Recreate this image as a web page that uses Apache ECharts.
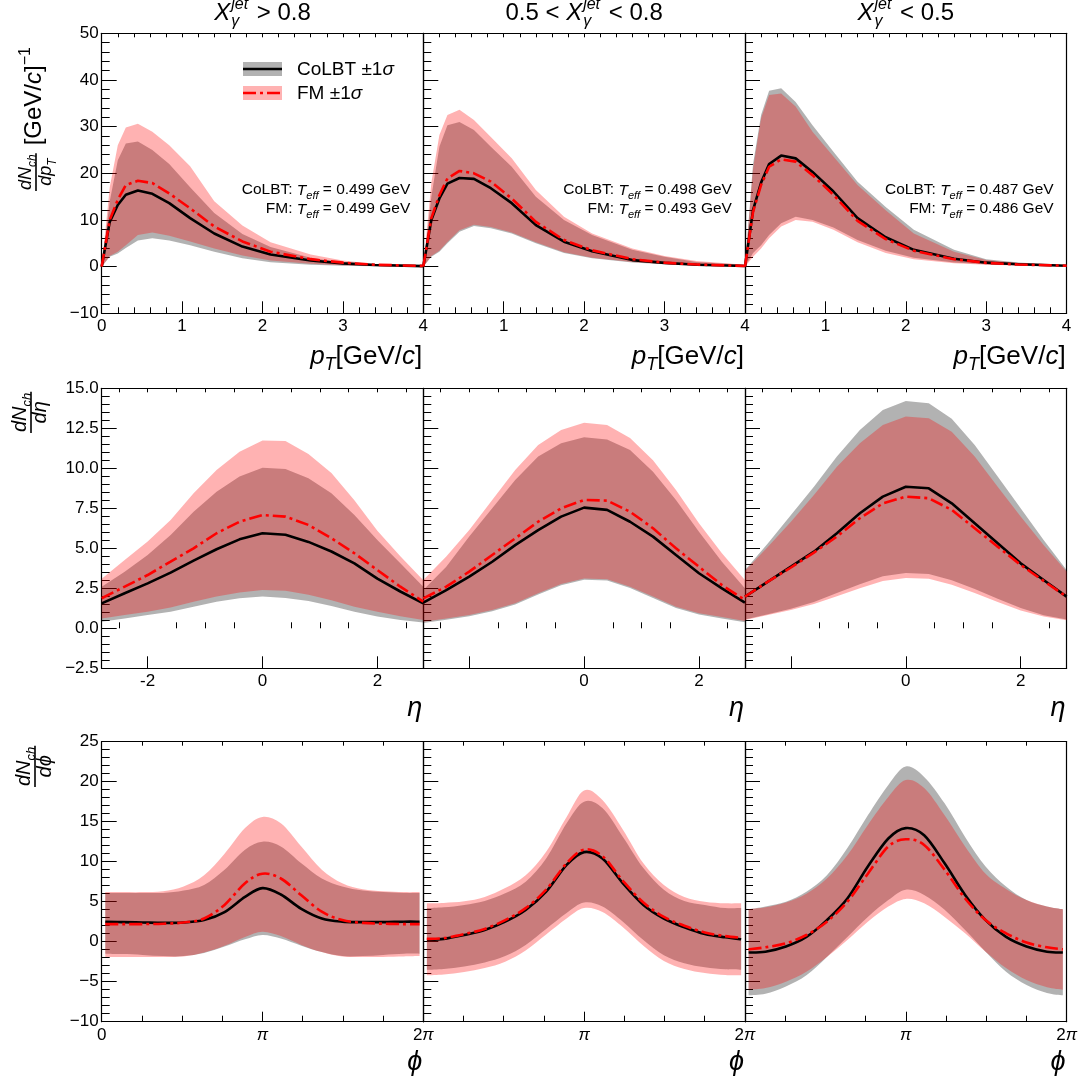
<!DOCTYPE html>
<html><head><meta charset="utf-8">
<script src="https://cdn.jsdelivr.net/npm/echarts@6/dist/echarts.min.js"></script>
<style>html,body{margin:0;padding:0;background:#fff}#c{width:1083px;height:1085px}</style>
</head><body><div id="c"></div>
<script>
// ================= DATA =================
const ptBins  = [0, 0.1, 0.2, 0.3, 0.45, 0.63, 0.84, 1.1, 1.4, 1.75, 2.1, 2.6, 3.0, 3.4, 4.0];
const etaBins = [-2.8, -2.4, -2.0, -1.6, -1.2, -0.8, -0.4, 0, 0.4, 0.8, 1.2, 1.6, 2.0, 2.4, 2.8];
const phiBins = [0.07, 0.4, 0.8, 1.2, 1.6, 2.0, 2.4, 2.8, 3.14, 3.5, 3.9, 4.3, 4.7, 5.1, 5.5, 5.9, 6.21];

const tEffCoLBT = ['0.499', '0.498', '0.487'];
const tEffFM    = ['0.499', '0.493', '0.486'];

// ---- dN/dpT ----
const colbtPt1   = [0, 9.6, 13.2, 15.4, 16.3, 15.6, 13.6, 10.4, 7.1, 4.3, 2.6, 1.3, 0.7, 0.35, 0.1];
const colbtPt1Lo = [0, 2.1, 2.8, 4.0, 5.6, 6.1, 5.6, 4.6, 3.2, 1.8, 0.95, 0.4, 0.2, 0.1, 0.05];
const colbtPt1Hi = [0, 14, 22.8, 26.4, 26.8, 25.0, 22.0, 17.0, 11.5, 7.0, 4.2, 1.9, 0.9, 0.4, 0.2];
const fmPt1      = [0, 10.0, 14.3, 17.5, 18.4, 17.9, 15.7, 12.5, 8.6, 5.4, 3.2, 1.6, 0.85, 0.4, 0.15];
const fmPt1Lo    = [0, 2.3, 3.2, 4.6, 6.8, 7.3, 6.6, 5.4, 3.9, 2.4, 1.3, 0.6, 0.3, 0.12, 0.05];
const fmPt1Hi    = [0, 17, 26, 29.8, 30.6, 28.9, 26.0, 21.5, 14.0, 8.8, 5.2, 2.6, 1.3, 0.55, 0.3];

const colbtPt2   = [0, 10.0, 14.6, 17.8, 19.0, 18.8, 16.8, 13.6, 8.9, 5.35, 3.3, 1.4, 0.8, 0.4, 0.15];
const colbtPt2Lo = [0, 2.1, 3.2, 5.0, 7.5, 8.7, 8.2, 7.1, 5.0, 2.9, 1.8, 0.9, 0.5, 0.3, 0.1];
const colbtPt2Hi = [0, 15, 25.7, 30.3, 31.0, 29.3, 25.7, 21.4, 15.0, 10.0, 6.8, 3.6, 2.1, 1.0, 0.4];
const fmPt2      = [0, 10.4, 15.3, 18.9, 20.5, 20.0, 18.2, 14.6, 9.6, 5.7, 3.5, 1.6, 0.85, 0.45, 0.15];
const fmPt2Lo    = [0, 2.3, 3.4, 5.3, 7.8, 9.0, 8.5, 7.3, 5.2, 3.1, 1.9, 1.0, 0.55, 0.3, 0.1];
const fmPt2Hi    = [0, 18, 28.2, 32.5, 33.6, 31.4, 27.8, 23.2, 16.4, 10.7, 7.1, 3.9, 2.3, 1.2, 0.4];

const colbtPt3   = [0, 12.1, 18.0, 22.0, 23.8, 23.2, 20.3, 16.1, 10.4, 6.3, 3.6, 1.7, 0.85, 0.5, 0.2];
const colbtPt3Lo = [0, 2.9, 4.6, 6.8, 9.3, 10.7, 10.0, 8.4, 5.7, 3.4, 1.9, 0.9, 0.5, 0.3, 0.1];
const colbtPt3Hi = [0, 22, 32.5, 37.7, 38.2, 35.3, 30.3, 24.6, 18.2, 12.8, 7.9, 3.6, 1.6, 0.9, 0.3];
const fmPt3      = [0, 11.7, 17.5, 21.4, 23.0, 22.5, 19.6, 15.4, 9.8, 5.9, 3.4, 1.6, 0.8, 0.45, 0.2];
const fmPt3Lo    = [0, 2.1, 3.9, 6.1, 8.6, 10.0, 9.6, 7.9, 5.2, 2.9, 1.6, 0.7, 0.4, 0.25, 0.1];
const fmPt3Hi    = [0, 21, 31.8, 36.8, 37.1, 34.3, 28.9, 23.6, 17.5, 12.1, 7.1, 3.2, 1.4, 0.8, 0.3];

// ---- dN/deta ----
const colbtEta1   = [1.56, 2.19, 2.81, 3.48, 4.23, 4.94, 5.56, 5.94, 5.85, 5.4, 4.8, 4.06, 3.1, 2.3, 1.56];
const colbtEta1Lo = [0.41, 0.62, 0.83, 1.04, 1.35, 1.66, 1.88, 1.98, 1.9, 1.7, 1.4, 1.04, 0.73, 0.52, 0.37];
const colbtEta1Hi = [2.6, 3.54, 4.58, 5.83, 7.29, 8.54, 9.48, 10.04, 9.95, 9.38, 8.44, 7.08, 5.52, 4.06, 2.6];
const fmEta1      = [1.88, 2.6, 3.33, 4.16, 5.0, 5.94, 6.66, 7.08, 6.98, 6.46, 5.63, 4.69, 3.64, 2.6, 1.67];
const fmEta1Lo    = [0.62, 0.83, 1.04, 1.3, 1.66, 1.98, 2.23, 2.4, 2.35, 2.1, 1.75, 1.35, 1.04, 0.75, 0.52];
const fmEta1Hi    = [3.1, 4.27, 5.42, 6.77, 8.44, 9.9, 11.04, 11.73, 11.7, 10.9, 9.7, 8.0, 6.1, 4.5, 3.0];

const colbtEta2   = [1.6, 2.39, 3.23, 4.16, 5.2, 6.14, 6.98, 7.54, 7.4, 6.66, 5.73, 4.58, 3.44, 2.5, 1.6];
const colbtEta2Lo = [0.33, 0.54, 0.75, 1.06, 1.48, 2.11, 2.69, 3.04, 2.98, 2.52, 1.9, 1.27, 0.86, 0.62, 0.38];
const colbtEta2Hi = [2.39, 3.85, 5.73, 7.5, 9.27, 10.73, 11.56, 11.94, 11.8, 11.14, 9.79, 8.02, 6.04, 4.16, 2.5];
const fmEta2      = [1.87, 2.6, 3.54, 4.58, 5.62, 6.66, 7.5, 8.02, 7.98, 7.29, 6.25, 5.0, 3.85, 2.7, 1.77];
const fmEta2Lo    = [0.41, 0.62, 0.83, 1.14, 1.56, 2.19, 2.77, 3.12, 3.06, 2.6, 1.98, 1.35, 0.94, 0.7, 0.46];
const fmEta2Hi    = [3.02, 4.48, 6.14, 8.02, 9.9, 11.46, 12.4, 12.85, 12.7, 11.9, 10.5, 8.65, 6.56, 4.69, 3.02];

const colbtEta3   = [1.98, 2.92, 3.85, 4.79, 5.94, 7.19, 8.23, 8.85, 8.75, 7.81, 6.56, 5.31, 4.06, 3.02, 1.98];
const colbtEta3Lo = [0.55, 0.88, 1.22, 1.65, 2.2, 2.75, 3.25, 3.45, 3.4, 3.0, 2.45, 1.85, 1.27, 0.82, 0.55];
const colbtEta3Hi = [3.65, 5.31, 7.08, 8.85, 10.73, 12.4, 13.65, 14.2, 14.06, 13.1, 11.46, 9.48, 7.5, 5.52, 3.65];
const fmEta3      = [1.98, 2.92, 3.8, 4.73, 5.73, 6.88, 7.81, 8.23, 8.13, 7.4, 6.25, 5.1, 3.96, 2.96, 1.98];
const fmEta3Lo    = [0.52, 0.83, 1.14, 1.52, 2.0, 2.5, 2.95, 3.15, 3.1, 2.72, 2.2, 1.65, 1.12, 0.74, 0.5];
const fmEta3Hi    = [3.6, 5.1, 6.66, 8.33, 10.1, 11.56, 12.7, 13.23, 13.13, 12.29, 10.73, 8.85, 6.98, 5.2, 3.55];

// ---- dN/dphi ----
const colbtPhi1   = [2.5, 2.45, 2.4, 2.35, 2.4, 2.7, 3.7, 5.6, 6.7, 5.9, 4.1, 2.9, 2.5, 2.45, 2.45, 2.5, 2.5];
const colbtPhi1Lo = [-1.5, -1.55, -1.65, -1.8, -1.8, -1.4, -0.6, 0.3, 0.85, 0.4, -0.5, -1.3, -1.8, -1.8, -1.65, -1.5, -1.5];
const colbtPhi1Hi = [6.1, 6.1, 6.1, 6.1, 6.4, 7.1, 9.0, 11.5, 12.5, 11.9, 9.8, 7.9, 6.9, 6.4, 6.2, 6.1, 6.1];
const fmPhi1      = [2.2, 2.2, 2.2, 2.25, 2.4, 2.9, 4.6, 7.3, 8.5, 7.9, 5.8, 3.75, 2.7, 2.35, 2.25, 2.2, 2.2];
const fmPhi1Lo    = [-1.9, -1.9, -1.9, -1.9, -1.85, -1.35, -0.5, 0.6, 1.25, 0.7, -0.4, -1.3, -1.85, -1.9, -1.9, -1.85, -1.8];
const fmPhi1Hi    = [6.2, 6.2, 6.2, 6.3, 6.9, 8.3, 11.0, 14.2, 15.6, 14.8, 11.9, 9.0, 7.3, 6.55, 6.3, 6.2, 6.2];

const colbtPhi2   = [0.25, 0.35, 0.84, 1.46, 2.5, 3.96, 6.25, 9.6, 11.2, 10.4, 7.3, 4.6, 2.9, 1.8, 0.96, 0.55, 0.3];
const colbtPhi2Lo = [-3.5, -3.4, -3.1, -2.6, -1.8, -0.4, 1.6, 3.6, 4.9, 4.4, 2.5, 0.2, -1.7, -2.7, -3.2, -3.45, -3.5];
const colbtPhi2Hi = [4.2, 4.3, 4.6, 5.1, 6.05, 7.5, 10.4, 14.8, 17.5, 16.7, 13.1, 9.2, 6.5, 5.1, 4.6, 4.2, 4.2];
const fmPhi2      = [0.35, 0.45, 0.95, 1.6, 2.7, 4.2, 6.5, 9.8, 11.5, 10.7, 7.6, 4.9, 3.1, 2.0, 1.15, 0.7, 0.5];
const fmPhi2Lo    = [-4.2, -4.1, -3.8, -3.3, -2.5, -1.1, 0.9, 2.9, 4.2, 3.7, 1.8, -0.5, -2.4, -3.4, -3.9, -4.15, -4.2];
const fmPhi2Hi    = [4.8, 4.85, 5.05, 5.6, 6.7, 8.3, 11.25, 15.6, 18.9, 17.7, 14.0, 9.8, 7.1, 5.6, 5.0, 4.8, 4.8];

const colbtPhi3   = [-1.35, -1.25, -0.6, 0.6, 2.7, 5.4, 9.4, 12.9, 14.2, 13.3, 9.8, 5.85, 2.7, 0.6, -0.6, -1.25, -1.35];
const colbtPhi3Lo = [-6.7, -6.5, -5.6, -4.2, -1.9, 0.6, 3.1, 5.2, 6.5, 5.85, 4.0, 1.46, -1.25, -3.75, -5.4, -6.4, -6.7];
const colbtPhi3Hi = [4.05, 4.4, 5.0, 6.25, 8.3, 11.7, 15.8, 19.6, 21.9, 20.6, 17.3, 13.1, 9.4, 6.9, 5.2, 4.4, 4.05];
const fmPhi3      = [-0.96, -0.7, -0.2, 0.84, 2.5, 5.0, 8.5, 11.9, 12.8, 12.1, 9.0, 5.4, 2.7, 1.05, -0.1, -0.7, -0.96];
const fmPhi3Lo    = [-6.0, -5.8, -5.0, -3.75, -1.9, 0.2, 2.5, 4.4, 5.35, 4.8, 3.1, 1.05, -1.25, -3.3, -4.8, -5.7, -6.0];
const fmPhi3Hi    = [4.05, 4.3, 4.9, 6.0, 7.9, 10.8, 14.6, 18.1, 20.2, 19.2, 15.8, 11.9, 8.5, 6.6, 5.2, 4.4, 4.05];

// tick values
const etaMajorTicks = [-2, 0, 2];
const etaMinorTicks = [-2.5, -1.5, -1, -0.5, 0.5, 1, 1.5, 2.5];
const etaAllTicks   = [-2.5, -2, -1.5, -1, -0.5, 0, 0.5, 1, 1.5, 2, 2.5];

// ================= LAYOUT / STYLE =================
const FF = "'Liberation Sans', Arial, Helvetica, sans-serif";
const colLeft = [101.7, 423.3, 745.0];
const rowTop = [33.3, 388.3, 741.7];
const PW = 321.6, PH = 280;
const RED = '#ff0000';
const GRAY_FILL = 'rgba(0,0,0,0.3)', RED_FILL = 'rgba(255,0,0,0.3)';
const DASHDOT = [13, 4, 3, 4];

const panels = [
  [
    {c:colbtPt1, cLo:colbtPt1Lo, cHi:colbtPt1Hi, f:fmPt1, fLo:fmPt1Lo, fHi:fmPt1Hi},
    {c:colbtPt2, cLo:colbtPt2Lo, cHi:colbtPt2Hi, f:fmPt2, fLo:fmPt2Lo, fHi:fmPt2Hi},
    {c:colbtPt3, cLo:colbtPt3Lo, cHi:colbtPt3Hi, f:fmPt3, fLo:fmPt3Lo, fHi:fmPt3Hi}
  ],
  [
    {c:colbtEta1, cLo:colbtEta1Lo, cHi:colbtEta1Hi, f:fmEta1, fLo:fmEta1Lo, fHi:fmEta1Hi},
    {c:colbtEta2, cLo:colbtEta2Lo, cHi:colbtEta2Hi, f:fmEta2, fLo:fmEta2Lo, fHi:fmEta2Hi},
    {c:colbtEta3, cLo:colbtEta3Lo, cHi:colbtEta3Hi, f:fmEta3, fLo:fmEta3Lo, fHi:fmEta3Hi}
  ],
  [
    {c:colbtPhi1, cLo:colbtPhi1Lo, cHi:colbtPhi1Hi, f:fmPhi1, fLo:fmPhi1Lo, fHi:fmPhi1Hi},
    {c:colbtPhi2, cLo:colbtPhi2Lo, cHi:colbtPhi2Hi, f:fmPhi2, fLo:fmPhi2Lo, fHi:fmPhi2Hi},
    {c:colbtPhi3, cLo:colbtPhi3Lo, cHi:colbtPhi3Hi, f:fmPhi3, fLo:fmPhi3Lo, fHi:fmPhi3Hi}
  ]
];
const rowXs = [ptBins, etaBins, phiBins];
const rowSmooth = [false, false, true];

const minus = v => (v < 0 ? '\u2212' : '') + Math.abs(v);
const rowY = [
  {min:-10, max:50, interval:10, fmt: v => minus(Math.round(v))},
  {min:-2.5, max:15, interval:2.5, fmt: v => (v < 0 ? '\u2212' : '') + Math.abs(v).toFixed(1)},
  {min:-10, max:25, interval:5, fmt: v => minus(Math.round(v))}
];

const LINE = {show:true, onZero:false, lineStyle:{color:'#000', width:1.2}};
const TK = {color:'#000', width:1};
const LBL = {fontSize:17, fontFamily:FF, color:'#000'};

const grids = [], xAxes = [], yAxes = [], series = [];

function piLabel(v, c) {
  const k = Math.round(v / Math.PI);
  if (k === 0) return c === 0 ? '0' : '';
  return k === 1 ? '{p|\u03c0}' : '2{p|\u03c0}';
}

// path helpers: outline through points given by the axis coordinate system
function segs(pts, smooth) {
  let s = '';
  for (let i = 1; i < pts.length; i++) {
    if (!smooth) { s += ' L' + pts[i][0] + ',' + pts[i][1]; continue; }
    const p0 = pts[i - 2] || pts[i - 1], p1 = pts[i - 1], p2 = pts[i], p3 = pts[i + 1] || pts[i];
    const c1 = [p1[0] + (p2[0] - p0[0]) / 6, p1[1] + (p2[1] - p0[1]) / 6];
    const c2 = [p2[0] - (p3[0] - p1[0]) / 6, p2[1] - (p3[1] - p1[1]) / 6];
    s += ' C' + c1[0] + ',' + c1[1] + ' ' + c2[0] + ',' + c2[1] + ' ' + p2[0] + ',' + p2[1];
  }
  return s;
}
function bandSeries(xs, lo, hi, fill, xb, yl, smooth, z) {
  return {
    type:'custom', xAxisIndex:xb, yAxisIndex:yl, silent:true, clip:true, z,
    data: xs.map((x, i) => [x, lo[i], hi[i]]),
    encode: {x:0, y:[1, 2]},
    renderItem: (params, api) => {
      if (params.dataIndex !== 0) return null;
      const top = xs.map((x, i) => api.coord([x, hi[i]]));
      const bot = xs.map((x, i) => api.coord([x, lo[i]])).reverse();
      const d = 'M' + top[0][0] + ',' + top[0][1] + segs(top, smooth) +
                ' L' + bot[0][0] + ',' + bot[0][1] + segs(bot, smooth) + ' Z';
      return {type:'path', shape:{pathData:d}, style:{fill, stroke:null}};
    }
  };
}
function smoothLineSeries(xs, ys, color, dash, xb, yl, z) {
  return {
    type:'custom', xAxisIndex:xb, yAxisIndex:yl, silent:true, clip:true, z,
    data: xs.map((x, i) => [x, ys[i]]),
    encode: {x:0, y:1},
    renderItem: (params, api) => {
      if (params.dataIndex !== 0) return null;
      const pts = xs.map((x, i) => api.coord([x, ys[i]]));
      const d = 'M' + pts[0][0] + ',' + pts[0][1] + segs(pts, true);
      return {type:'path', shape:{pathData:d},
        style:{fill:null, stroke:color, lineWidth:2.6, lineDash:dash || null, lineJoin:'round'}};
    }
  };
}

for (let r = 0; r < 3; r++) {
  for (let c = 0; c < 3; c++) {
    const g = grids.length;
    grids.push({left: colLeft[c], top: rowTop[r], width: PW, height: PH});
    const xb = xAxes.length;
    if (r === 0) {
      xAxes.push({type:'value', gridIndex:g, position:'bottom', min:0, max:4, interval:1,
        axisLine:LINE, axisTick:{show:true, inside:true, length:12, lineStyle:TK},
        minorTick:{show:true, splitNumber:5, length:6, lineStyle:TK},
        axisLabel:{...LBL, margin:5, showMinLabel:true, showMaxLabel:true,
          formatter: v => (v === 0 && c > 0) ? '' : String(v)},
        splitLine:{show:false}, minorSplitLine:{show:false}});
      xAxes.push({type:'value', gridIndex:g, position:'top', min:0, max:4, interval:1,
        axisLine:LINE, axisTick:{show:true, inside:true, length:4, lineStyle:TK},
        minorTick:{show:true, splitNumber:5, length:4, lineStyle:TK},
        axisLabel:{show:false}, splitLine:{show:false}});
    } else if (r === 1) {
      xAxes.push({type:'value', gridIndex:g, position:'bottom', min:-2.8, max:2.8,
        axisLine:LINE, axisTick:{show:true, inside:true, length:12, lineStyle:TK, customValues: etaMajorTicks},
        axisLabel:{...LBL, margin:5, customValues: c === 0 ? etaMajorTicks : etaMajorTicks.slice(1),
          formatter: v => String(v)},
        splitLine:{show:false}});
      xAxes.push({type:'value', gridIndex:g, position:'top', min:-2.8, max:2.8,
        axisLine:LINE, axisTick:{show:true, inside:true, length:4, lineStyle:TK, customValues: etaAllTicks},
        axisLabel:{show:false}, splitLine:{show:false}});
      xAxes.push({type:'value', gridIndex:g, position:'bottom', min:-2.8, max:2.8,
        axisLine:{show:false}, axisTick:{show:true, inside:true, length:6, lineStyle:TK, customValues: etaMinorTicks},
        axisLabel:{show:false}, splitLine:{show:false}});
    } else {
      xAxes.push({type:'value', gridIndex:g, position:'bottom', min:0, max:2*Math.PI, interval:Math.PI,
        axisLine:LINE, axisTick:{show:true, inside:true, length:10, lineStyle:TK},
        minorTick:{show:true, splitNumber:4, length:6, lineStyle:TK},
        axisLabel:{...LBL, margin:5, showMinLabel:true, showMaxLabel:true, formatter: v => piLabel(v, c),
          rich:{p:{fontSize:17, fontFamily:FF, fontStyle:'italic', color:'#000'}}},
        splitLine:{show:false}, minorSplitLine:{show:false}});
      xAxes.push({type:'value', gridIndex:g, position:'top', min:0, max:2*Math.PI, interval:Math.PI,
        axisLine:LINE, axisTick:{show:true, inside:true, length:4, lineStyle:TK},
        minorTick:{show:true, splitNumber:4, length:4, lineStyle:TK},
        axisLabel:{show:false}, splitLine:{show:false}});
    }
    const yl = yAxes.length;
    const ry = rowY[r];
    yAxes.push({type:'value', gridIndex:g, position:'left', min:ry.min, max:ry.max, interval:ry.interval,
      axisLine:LINE, axisTick:{show:true, inside:true, length:15, lineStyle:TK},
      minorTick:{show:true, splitNumber:5, length:8, lineStyle:TK},
      axisLabel:{...LBL, show: c === 0, margin:3, showMinLabel:true, showMaxLabel:true, formatter: ry.fmt},
      splitLine:{show:false}, minorSplitLine:{show:false}});
    yAxes.push({type:'value', gridIndex:g, position:'right', min:ry.min, max:ry.max,
      axisLine:LINE, axisTick:{show:false}, axisLabel:{show:false}, splitLine:{show:false}});

    const xs = rowXs[r], d = panels[r][c], sm = rowSmooth[r];
    const mk = arr => xs.map((x, i) => [x, arr[i]]);
    series.push(bandSeries(xs, d.cLo, d.cHi, GRAY_FILL, xb, yl, sm, 2));
    series.push(bandSeries(xs, d.fLo, d.fHi, RED_FILL, xb, yl, sm, 3));
    if (sm) {
      series.push(smoothLineSeries(xs, d.c, '#000', null, xb, yl, 4));
      series.push(smoothLineSeries(xs, d.f, RED, DASHDOT, xb, yl, 5));
    } else {
      const base = {type:'line', xAxisIndex:xb, yAxisIndex:yl, symbol:'none', showSymbol:false,
        smooth:false, silent:true, animation:false};
      series.push({...base, data: mk(d.c), lineStyle:{color:'#000', width:2.6}, z:4});
      series.push({...base, data: mk(d.f), lineStyle:{color:RED, width:2.6, type:DASHDOT}, z:5});
    }
  }
}

// ================= TEXT (math-like) =================
const mctx = document.createElement('canvas').getContext('2d');
const fnt = (s, it) => (it ? 'italic ' : '') + s + 'px ' + FF;
function mw(t, s, it) { mctx.font = fnt(s, it); return mctx.measureText(t).width; }
function txt(t, x, y, s, it, color) {
  return {type:'text', x, y, silent:true,
    style:{text:t, font:fnt(s, it), fill:color || '#000', align:'left', verticalAlign:'middle',
      textAlign:'left', textVerticalAlign:'middle'}};
}
function mathEls(parts, align) {
  let x = 0, prevStart = 0;
  const els = [];
  for (const p of parts) {
    const w = mw(p.t, p.s, p.it);
    const sx = p.stack ? prevStart : x;
    els.push(txt(p.t, sx, (p.dy || 0) - 0.31 * p.s, p.s, p.it));
    if (p.stack) x = Math.max(x, sx + w); else { prevStart = sx; x = sx + w; }
    x += (p.gap || 0);
  }
  const off = align === 'center' ? -x / 2 : align === 'right' ? -x : 0;
  els.forEach(e => e.x += off);
  return {els, width: x};
}
const elements = [];
function place(parts, x, y, align) {
  elements.push({type:'group', x, y, silent:true, children: mathEls(parts, align).els});
}

// titles
const Xg = [
  {t:'X', s:24, it:true, gap:1},
  {t:'jet', s:16, it:true, dy:-11},
  {t:'\u03b3', s:16, it:true, dy:6, stack:true, gap:2}
];
const titleParts = [
  [...Xg, {t:' > 0.8', s:24}],
  [{t:'0.5 < ', s:24}, ...Xg, {t:' < 0.8', s:24}],
  [...Xg, {t:' < 0.5', s:24}]
];
for (let c = 0; c < 3; c++) place(titleParts[c], colLeft[c] + PW / 2, 21, 'center');

// T_eff annotations
for (let c = 0; c < 3; c++) {
  const xr = colLeft[c] + PW - 13;
  place([{t:'CoLBT: ', s:15.5}, {t:'T', s:15.5, it:true}, {t:'eff', s:11, it:true, dy:4},
         {t:' = ' + tEffCoLBT[c] + ' GeV', s:15.5}], xr, 195, 'right');
  place([{t:'FM: ', s:15.5}, {t:'T', s:15.5, it:true}, {t:'eff', s:11, it:true, dy:4},
         {t:' = ' + tEffFM[c] + ' GeV', s:15.5}], xr, 214, 'right');
}

// x axis titles
for (let c = 0; c < 3; c++) {
  const xr = colLeft[c] + PW - 1;
  place([{t:'p', s:26, it:true}, {t:'T', s:18, it:true, dy:6}, {t:'[GeV/', s:26}, {t:'c', s:26, it:true}, {t:']', s:26}],
        xr, 365, 'right');
  place([{t:'\u03b7', s:27, it:true}], xr, 717, 'right');
  place([{t:'\u03d5', s:27, it:true}], xr, 1071, 'right');
}

// y axis titles (rotated fractions)
function fracGroup(numParts, denParts, tailParts, x0, y0, numShift, denShift) {
  const n = mathEls(numParts, 'left'), dd = mathEls(denParts, 'left');
  const fw = Math.max(n.width, dd.width) + 2;
  n.els.forEach(e => { e.x += (fw - n.width) / 2; e.y += numShift; });
  dd.els.forEach(e => { e.x += (fw - dd.width) / 2; e.y += denShift; });
  const children = [...n.els, ...dd.els,
    {type:'line', silent:true, shape:{x1:0, y1:0, x2:fw, y2:0}, style:{stroke:'#000', lineWidth:1.6}}];
  if (tailParts) {
    const t = mathEls(tailParts, 'left');
    t.els.forEach(e => { e.x += fw + 8; e.y += 6; });
    children.push(...t.els);
  }
  elements.push({type:'group', x:x0, y:y0, rotation:Math.PI / 2, silent:true, children});
}
const num18 = [{t:'d', s:18, it:true}, {t:'N', s:18, it:true}, {t:'ch', s:12, it:true, dy:4}];
const num20 = [{t:'d', s:20, it:true}, {t:'N', s:20, it:true}, {t:'ch', s:13, it:true, dy:4}];
fracGroup(num18, [{t:'d', s:18, it:true}, {t:'p', s:18, it:true}, {t:'T', s:12, it:true, dy:4}],
  [{t:'[GeV/', s:24}, {t:'c', s:24, it:true}, {t:']', s:24}, {t:'\u22121', s:16, dy:-11}], 36, 191, -4, 16);
fracGroup(num20, [{t:'d', s:20, it:true}, {t:'\u03b7', s:20, it:true}], null, 31, 433, -4, 16);
fracGroup(num20, [{t:'d', s:20, it:true}, {t:'\u03d5', s:20, it:true}], null, 35, 787, -4, 17);

// legend
elements.push({type:'rect', silent:true, shape:{x:243, y:62, width:39, height:14}, style:{fill:GRAY_FILL}});
elements.push({type:'line', silent:true, shape:{x1:243, y1:69, x2:282, y2:69}, style:{stroke:'#000', lineWidth:2.6}});
elements.push({type:'rect', silent:true, shape:{x:243, y:86, width:39, height:14}, style:{fill:RED_FILL}});
elements.push({type:'line', silent:true, shape:{x1:243, y1:93, x2:282, y2:93}, style:{stroke:RED, lineWidth:2.6, lineDash:DASHDOT}});
place([{t:'CoLBT \u00b11', s:19}, {t:'\u03c3', s:19, it:true}], 297, 76, 'left');
place([{t:'FM \u00b11', s:19}, {t:'\u03c3', s:19, it:true}], 297, 100, 'left');

const chart = echarts.init(document.getElementById('c'), null, {renderer:'canvas'});
chart.setOption({
  animation:false,
  backgroundColor:'#fff',
  grid: grids, xAxis: xAxes, yAxis: yAxes, series,
  graphic: {elements}
});
</script></body></html>
